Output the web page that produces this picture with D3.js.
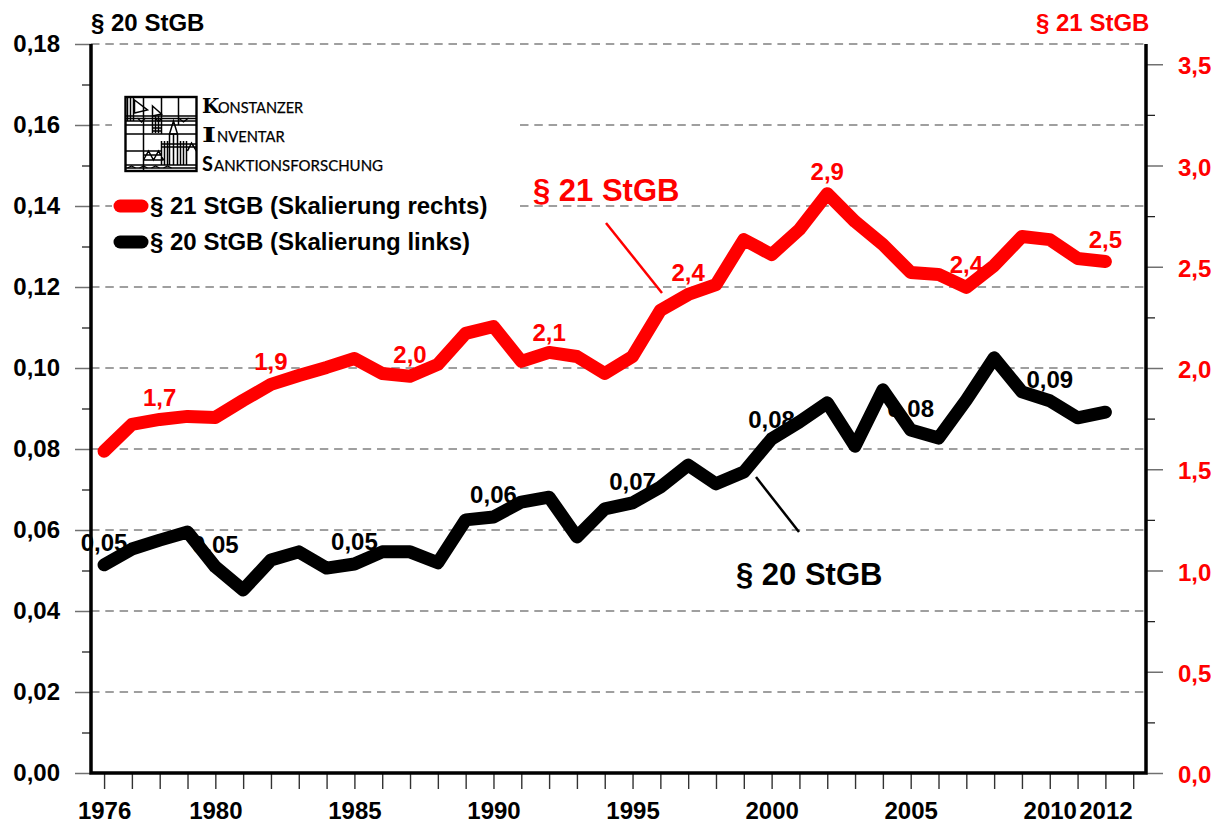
<!DOCTYPE html>
<html><head><meta charset="utf-8">
<script src="https://cdn.jsdelivr.net/npm/d3@7"></script>
<style>
html,body{margin:0;padding:0;background:#fff}
svg{display:block}
text{font-family:"Liberation Sans",Arial,sans-serif;font-weight:700}
</style></head><body><svg id="c" width="1226" height="825"></svg>
<script>
const years = d3.range(1976, 2013);
const yearLabels = [1976,1980,1985,1990,1995,2000,2005,2010,2012];
const sec21 = [1.589,1.722,1.746,1.761,1.756,1.84,1.919,1.963,2.003,2.047,1.973,1.959,2.018,2.171,2.205,2.033,2.077,2.057,1.973,2.057,2.284,2.363,2.412,2.634,2.56,2.684,2.861,2.723,2.61,2.472,2.462,2.398,2.506,2.649,2.634,2.541,2.526];
const sec20 = [.0514,.0553,.0575,.0595,.0509,.0452,.0526,.0546,.0506,.0516,.0546,.0546,.0519,.0625,.0632,.0669,.0681,.0583,.0652,.0667,.0706,.0760,.0714,.0743,.0825,.0867,.0914,.0807,.0946,.0847,.0827,.0921,.1025,.0941,.0919,.0877,.0891];
const labels21 = [[1978,"1,7"],[1982,"1,9"],[1987,"2,0"],[1992,"2,1"],[1997,"2,4"],[2002,"2,9"],[2007,"2,4"],[2012,"2,5"]];
const labels20 = [[1976,"0,05"],[1980,"0,05"],[1985,"0,05"],[1990,"0,06"],[1995,"0,07"],[2000,"0,08"],[2005,"0,08"],[2010,"0,09"]];
const leftMajor = d3.range(0, 0.181, 0.02);
const leftMinor = d3.range(0.01, 0.18, 0.02);
const rightMajor = [0,0.5,1,1.5,2,2.5,3,3.5];
const rightMinor = [0.25,0.75,1.25,1.75,2.25,2.75,3.25];

const RED = "#ff0000";
const svg = d3.select("#c");
const x = d3.scaleLinear().domain([1975.53, 2013.46]).range([91, 1146]);
const yL = d3.scaleLinear().domain([0, 0.18]).range([773, 44]);
const yR = d3.scaleLinear().domain([0, 3.6]).range([773, 44]);
const comma = v => v.toFixed(2).replace(".", ",");
const comma1 = v => v.toFixed(1).replace(".", ",");

// grid
svg.append("g").selectAll("line").data(leftMajor.slice(1)).join("line")
  .attr("x1", 91).attr("x2", 1146).attr("y1", d => yL(d)).attr("y2", d => yL(d))
  .attr("stroke", "#808080").attr("stroke-width", 1.4).attr("stroke-dasharray", "8.5 5.8");

// white panel behind logo and legend
svg.append("rect").attr("x",112).attr("y",92).attr("width",408).attr("height",170).attr("fill","#fff");

// axes
function style(g, size){ g.selectAll("text").attr("font-size", size); }
const gL = svg.append("g").attr("transform","translate(91,0)")
  .call(d3.axisLeft(yL).tickValues(leftMajor).tickFormat(comma).tickSize(16).tickPadding(15));
gL.select(".domain").remove();
gL.selectAll("line").attr("stroke","#707070").attr("stroke-width",1.5);
style(gL,24);
const gLm = svg.append("g").attr("transform","translate(91,0)")
  .call(d3.axisLeft(yL).tickValues(leftMinor).tickFormat("").tickSize(9));
gLm.select(".domain").remove();
gLm.selectAll("line").attr("stroke","#222").attr("stroke-width",1.3);

const gR = svg.append("g").attr("transform","translate(1146,0)")
  .call(d3.axisRight(yR).tickValues(rightMajor).tickFormat(comma1).tickSize(17).tickPadding(15));
gR.select(".domain").remove();
gR.selectAll("line").attr("stroke","#707070").attr("stroke-width",1.5);
gR.selectAll("text").attr("fill",RED).attr("y",2);
style(gR,24);
const gRm = svg.append("g").attr("transform","translate(1146,0)")
  .call(d3.axisRight(yR).tickValues(rightMinor).tickFormat("").tickSize(9));
gRm.select(".domain").remove();
gRm.selectAll("line").attr("stroke","#222").attr("stroke-width",1.3);

const gX = svg.append("g").attr("transform","translate(0,773)")
  .call(d3.axisBottom(x).tickValues(d3.range(1976,2014)).tickFormat(d => yearLabels.includes(d) ? String(d) : "").tickSize(16).tickPadding(13));
gX.select(".domain").remove();
gX.selectAll("line").attr("stroke","#333").attr("stroke-width",1.4);
style(gX,24);

// frame
svg.append("path").attr("d",`M91,44V773H1146V44`).attr("fill","none").attr("stroke","#000").attr("stroke-width",3.5);

// data labels beneath lines
const lab = (data, col) => svg.append("g").selectAll("text").data(data).join("text")
  .attr("x", d => x(d[0])).attr("y", d => d[2]).attr("text-anchor","middle").attr("font-size",24).attr("fill",col).text(d => d[1]);
const y21 = [406,370,363,341,281,180,273,248];
const y20 = [551,553,550,503,490,428,417,388];
lab(labels21.map((d,i)=>[d[0],d[1],y21[i]]), RED);
lab(labels20.map((d,i)=>[d[0],d[1],y20[i]]), "#000");

// lines
const line = (y) => d3.line().x((d,i)=>x(years[i])).y(d=>y(d));
svg.append("path").datum(sec21).attr("d", line(yR)).attr("fill","none").attr("stroke",RED).attr("stroke-width",13).attr("stroke-linejoin","round").attr("stroke-linecap","round");
svg.append("path").datum(sec20).attr("d", line(yL)).attr("fill","none").attr("stroke","#000").attr("stroke-width",13).attr("stroke-linejoin","round").attr("stroke-linecap","round");

// titles
svg.append("text").attr("x",91).attr("y",31).attr("font-size",24).text("§ 20 StGB");
svg.append("text").attr("x",1036).attr("y",31).attr("font-size",24).attr("fill",RED).text("§ 21 StGB");

// callouts
svg.append("text").attr("x",533).attr("y",201).attr("font-size",31).attr("fill",RED).text("§ 21 StGB");
svg.append("line").attr("x1",606).attr("y1",223).attr("x2",662).attr("y2",293).attr("stroke",RED).attr("stroke-width",2.5);
svg.append("text").attr("x",736).attr("y",585).attr("font-size",31).text("§ 20 StGB");
svg.append("line").attr("x1",756).attr("y1",477).attr("x2",799).attr("y2",532).attr("stroke","#000").attr("stroke-width",2.5);

// legend
svg.append("line").attr("x1",120).attr("x2",142).attr("y1",206).attr("y2",206).attr("stroke",RED).attr("stroke-width",13).attr("stroke-linecap","round");
svg.append("line").attr("x1",120).attr("x2",142).attr("y1",242).attr("y2",242).attr("stroke","#000").attr("stroke-width",13).attr("stroke-linecap","round");
svg.append("text").attr("x",150).attr("y",214).attr("font-size",24).text("§ 21 StGB (Skalierung rechts)");
svg.append("text").attr("x",150).attr("y",250).attr("font-size",24).text("§ 20 StGB (Skalierung links)");

// logo
const logo = svg.append("g").attr("transform","translate(125.5,97)").attr("fill","none").attr("stroke","#000").attr("stroke-width",1.5);
logo.append("rect").attr("width",71).attr("height",74).attr("stroke-width",2.4);
logo.append("path").attr("d","M18,0V74M36,0V37M53,0V28M0,19H71M0,21.5H71M0,24H71M0,28H71M0,37H71M0,54H36M0,68H71M0,71H71");
logo.append("path").attr("d","M2,0V24M5,0V24M8,0V24M9,3L22,13L9,16ZM27,9L36,17L27,19ZM27,19V36M30,19V36M33,19V36M27,31H36M27,34H36");
logo.append("path").attr("d","M18,63L23,54L28,63L33,54L38,63M18,63H38M18,58H36M62,54L66,46L71,54M48,24L44,37H52ZM44,37V68M48,37V68M52,37V68M36,47H71M36,50H71M36,44V68M39,44V68M42,44V68M55,44V68M58,44V68M61,44V68");
logo.append("path").attr("d","M2,71L6,69L10,71M14,71L18,69L22,71M26,71L30,69L34,71M38,71L42,69L46,71M12,21L16,25L20,21M30,21L33,25L36,21M53,21L58,25L63,21").attr("stroke-width",1.3);

// logo words
const word = (yy, first, rest, size, restX, firstFamily, firstWeight, sx) => {
  svg.append("text").attr("transform",`translate(202,${yy}) scale(${sx},1)`).attr("font-size",20)
    .style("font-family",firstFamily).style("font-weight",firstWeight).attr("fill","#000").text(first);
  svg.append("text").attr("x",restX).attr("y",yy).attr("font-size",size)
    .style("font-family","Lato,sans-serif").style("font-weight","400")
    .attr("fill","#000").attr("stroke","#000").attr("stroke-width",0.25).text(rest);
};
word(113,"K","ONSTANZER",14.5,218,"'DejaVu Serif',serif","700",1);
word(142,"I","NVENTAR",14.7,217,"'DejaVu Serif',serif","700",1.5);
word(171,"S","ANKTIONSFORSCHUNG",15,214,"Lato,sans-serif","700",1);
</script></body></html>
